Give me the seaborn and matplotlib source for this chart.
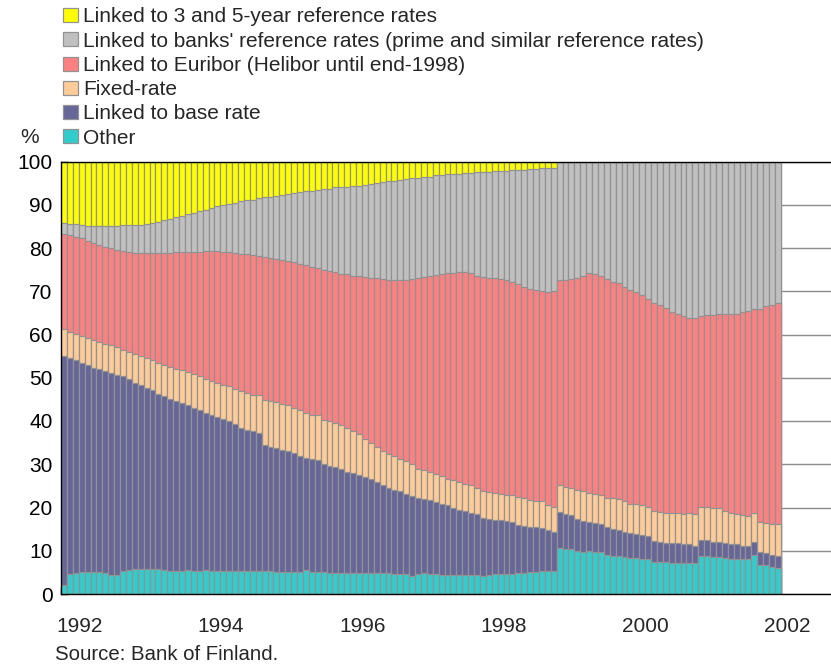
import numpy as np
import pandas as pd
import matplotlib
matplotlib.use("Agg")
import matplotlib.pyplot as plt
from matplotlib.patches import Patch
from matplotlib.transforms import ScaledTranslation
import seaborn as sns

# monthly, Jan 1992 - Feb 2002
months = pd.date_range("1992-01-01", periods=122, freq="MS").strftime("%Y-%m").tolist()

# stacked levels (% of stock), one row per year
# top of "Other"
lvl_other = [
    2.1, 4.6, 4.8, 5.0, 5.0, 5.0, 5.0, 4.8, 4.5, 4.5, 5.4, 5.6,
    5.8, 5.8, 5.7, 5.7, 5.8, 5.5, 5.4, 5.4, 5.4, 5.5, 5.4, 5.4,
    5.5, 5.4, 5.4, 5.3, 5.3, 5.4, 5.4, 5.4, 5.4, 5.3, 5.4, 5.4,
    5.2, 5.0, 5.0, 5.0, 5.1, 5.6, 5.0, 5.0, 5.0, 4.9, 4.9, 4.9,
    4.9, 4.9, 4.8, 4.9, 4.9, 4.8, 4.8, 4.8, 4.6, 4.6, 4.6, 4.1,
    4.6, 4.8, 4.6, 4.6, 4.4, 4.4, 4.4, 4.4, 4.4, 4.4, 4.4, 4.1,
    4.4, 4.6, 4.6, 4.6, 4.6, 4.8, 4.9, 5.0, 5.0, 5.4, 5.4, 5.4,
    10.6, 10.4, 10.3, 9.9, 9.7, 9.9, 9.8, 9.6, 9.0, 8.9, 8.9, 8.6,
    8.4, 8.4, 8.2, 8.1, 7.4, 7.4, 7.4, 7.2, 7.2, 7.1, 7.2, 7.1,
    8.9, 8.9, 8.5, 8.6, 8.4, 8.2, 8.1, 8.1, 8.1, 9.0, 6.8, 6.7,
    6.3, 6.1,
]
# top of "Linked to base rate"
lvl_base = [
    55.0, 54.6, 54.1, 53.5, 52.9, 52.3, 52.0, 51.5, 51.1, 50.7, 50.3, 49.7,
    48.9, 48.3, 47.7, 47.1, 46.3, 45.8, 45.2, 44.6, 44.2, 43.6, 43.1, 42.5,
    41.9, 41.3, 40.9, 40.5, 39.9, 39.4, 38.4, 37.9, 37.6, 37.3, 34.4, 34.0,
    33.7, 33.4, 33.0, 32.6, 32.0, 31.4, 31.1, 30.9, 30.1, 29.7, 29.3, 29.0,
    28.3, 28.0, 27.4, 27.0, 26.5, 25.9, 25.3, 24.6, 24.1, 23.7, 23.2, 22.6,
    22.3, 22.0, 21.8, 21.2, 20.8, 20.5, 19.8, 19.5, 19.3, 18.8, 18.5, 17.5,
    17.4, 17.2, 17.0, 16.8, 16.6, 16.0, 15.8, 15.4, 15.4, 15.2, 14.7, 14.3,
    18.9, 18.5, 18.3, 17.4, 16.8, 16.6, 16.4, 16.1, 15.6, 15.1, 14.8, 14.3,
    14.0, 13.8, 13.6, 13.4, 12.2, 12.0, 11.9, 11.7, 11.7, 11.5, 11.5, 11.1,
    12.6, 12.6, 12.1, 12.1, 11.9, 11.6, 11.5, 11.2, 11.2, 12.0, 9.7, 9.5,
    9.1, 8.9,
]
# top of "Fixed-rate"
lvl_fixed = [
    61.2, 60.6, 60.1, 59.7, 59.3, 58.7, 58.3, 57.9, 57.5, 57.1, 56.5, 56.0,
    55.4, 55.0, 54.6, 54.1, 53.5, 52.9, 52.5, 52.1, 51.7, 51.4, 50.8, 50.3,
    49.7, 49.2, 48.8, 48.4, 48.0, 47.5, 47.0, 46.5, 46.1, 45.9, 44.8, 44.6,
    44.3, 44.0, 43.6, 43.1, 42.5, 41.9, 41.3, 41.3, 40.3, 40.0, 39.5, 39.0,
    38.4, 37.6, 37.1, 35.9, 35.0, 34.0, 33.0, 32.4, 32.0, 31.3, 30.7, 30.1,
    29.0, 28.6, 28.2, 27.8, 27.3, 26.6, 26.3, 25.9, 25.5, 25.1, 24.5, 23.9,
    23.6, 23.4, 23.2, 22.9, 22.8, 22.4, 22.2, 21.8, 21.6, 21.4, 20.5, 20.2,
    25.1, 24.7, 24.6, 24.1, 23.7, 23.3, 23.2, 22.9, 22.3, 22.1, 21.9, 21.6,
    20.9, 20.8, 20.5, 20.2, 19.2, 19.0, 18.8, 18.8, 18.8, 18.4, 18.7, 18.6,
    20.2, 20.2, 19.8, 19.8, 19.2, 18.7, 18.4, 18.2, 18.1, 18.8, 16.7, 16.5,
    16.3, 16.1,
]
# top of "Linked to Euribor"
lvl_euribor = [
    83.2, 83.0, 82.6, 82.2, 81.7, 81.1, 80.7, 80.3, 79.9, 79.5, 79.3, 79.0,
    78.9, 78.9, 78.9, 78.9, 78.9, 78.9, 78.9, 79.0, 79.0, 79.0, 79.0, 79.0,
    79.2, 79.2, 79.2, 79.1, 79.0, 78.9, 78.7, 78.5, 78.4, 78.2, 78.0, 77.8,
    77.5, 77.2, 77.0, 76.7, 76.4, 76.1, 75.7, 75.3, 74.9, 74.7, 74.4, 74.1,
    73.9, 73.6, 73.5, 73.4, 73.1, 73.0, 72.8, 72.7, 72.7, 72.7, 72.7, 72.8,
    73.0, 73.4, 73.6, 73.8, 74.0, 74.2, 74.3, 74.4, 74.4, 74.2, 73.6, 73.2,
    73.1, 73.0, 72.8, 72.6, 72.2, 71.6, 71.0, 70.5, 70.4, 70.0, 69.9, 70.0,
    72.5, 72.7, 72.8, 73.1, 73.6, 74.2, 74.1, 73.6, 72.8, 72.2, 71.8, 70.9,
    70.4, 69.8, 69.1, 68.3, 67.3, 66.8, 66.2, 65.2, 64.8, 64.2, 63.7, 63.7,
    64.2, 64.5, 64.6, 64.8, 64.8, 64.8, 64.8, 65.2, 65.4, 66.0, 66.0, 66.7,
    66.9, 67.2,
]
# top of "Linked to banks' reference rates"
lvl_banks = [
    85.8, 85.5, 85.5, 85.4, 85.2, 85.2, 85.2, 85.2, 85.2, 85.2, 85.3, 85.3,
    85.3, 85.4, 85.5, 85.8, 86.1, 86.4, 86.7, 87.1, 87.4, 87.8, 88.1, 88.5,
    88.9, 89.3, 89.6, 89.9, 90.2, 90.5, 90.8, 91.0, 91.2, 91.5, 91.7, 91.9,
    92.1, 92.3, 92.4, 92.7, 92.9, 93.1, 93.2, 93.4, 93.6, 93.7, 94.0, 94.1,
    94.2, 94.3, 94.4, 94.6, 94.9, 95.1, 95.2, 95.4, 95.6, 95.8, 96.0, 96.1,
    96.3, 96.4, 96.5, 96.8, 96.9, 97.1, 97.1, 97.2, 97.3, 97.4, 97.5, 97.5,
    97.6, 97.8, 97.8, 97.9, 98.0, 98.1, 98.1, 98.2, 98.3, 98.4, 98.5, 98.6,
    100, 100, 100, 100, 100, 100, 100, 100, 100, 100, 100, 100,
    100, 100, 100, 100, 100, 100, 100, 100, 100, 100, 100, 100,
    100, 100, 100, 100, 100, 100, 100, 100, 100, 100, 100, 100,
    100, 100,
]
# whole stock = 100 %, top of "Linked to 3 and 5-year reference rates"
lvl_total = [100] * len(months)

labels = [
    "Linked to 3 and 5-year reference rates",
    "Linked to banks' reference rates (prime and similar reference rates)",
    "Linked to Euribor (Helibor until end-1998)",
    "Fixed-rate",
    "Linked to base rate",
    "Other",
]
colors = ["#FFFF00", "#C0C0C0", "#FF8080", "#FFCC99", "#666699", "#33CCCC"]
edge = "#929292"
fs = 15

sns.set_theme(style="white")
plt.rcParams["font.family"] = ["Liberation Sans", "DejaVu Sans"]

fig = plt.figure(figsize=(8.31, 6.65), dpi=100)
ax = fig.add_axes([61/831, 71/665, 770/831, 432.5/665])

# draw tallest layer first so the lower ones sit on top of it
layers = [lvl_total, lvl_banks, lvl_euribor, lvl_fixed, lvl_base, lvl_other]
for lvl, col in zip(layers, colors):
    sns.barplot(x=months, y=lvl, color=col, saturation=1, width=1,
                edgecolor=edge, linewidth=0.9, errorbar=None, ax=ax, zorder=2)

ax.set_xlim(-0.5, 130)
ax.set_ylim(0, 100)
ax.set_xlabel("")
ax.set_ylabel("")

ax.set_yticks(range(0, 101, 10))
ax.set_yticks(range(5, 100, 10), minor=True)
ax.yaxis.grid(True, color="#8c8c8c", linewidth=1)
ax.set_axisbelow(True)

# year boundaries, labels every second year sitting just right of the tick
xt = np.arange(-0.5, len(months), 12)
ax.set_xticks(xt)
ax.set_xticklabels([])
lab_tr = ax.get_xaxis_transform() + ScaledTranslation(-0.05, -0.38, fig.dpi_scale_trans)
for k, pos in enumerate(xt):
    if k % 2 == 0:
        ax.text(pos, 0, str(1992 + k), transform=lab_tr, ha="left", va="baseline", fontsize=fs)

ax.tick_params(axis="x", direction="in", length=5, width=1, bottom=True, color="black")
ax.tick_params(axis="y", which="both", direction="in", length=5, width=1, pad=6,
               left=True, labelsize=fs, color="black", labelcolor="black")

for s in ["left", "bottom", "top"]:
    ax.spines[s].set_color("black")
    ax.spines[s].set_linewidth(1)
ax.spines["right"].set_visible(False)

handles = [Patch(facecolor=c, edgecolor=edge, linewidth=0.9, label=l) for c, l in zip(colors, labels)]
fig.legend(handles=handles, loc="upper left", bbox_to_anchor=(63/831, 1 - 7.5/665),
           frameon=False, fontsize=fs, handlelength=0.72, handleheight=0.65,
           handletextpad=0.25, labelspacing=0.25, borderpad=0, borderaxespad=0)

fig.text(30/831, 1 - 143/665, "%", ha="center", va="baseline", fontsize=fs)
fig.text(55/831, 1 - 660/665, "Source: Bank of Finland.", ha="left", va="baseline", fontsize=14.7)

fig.savefig("out.png", dpi=100)
